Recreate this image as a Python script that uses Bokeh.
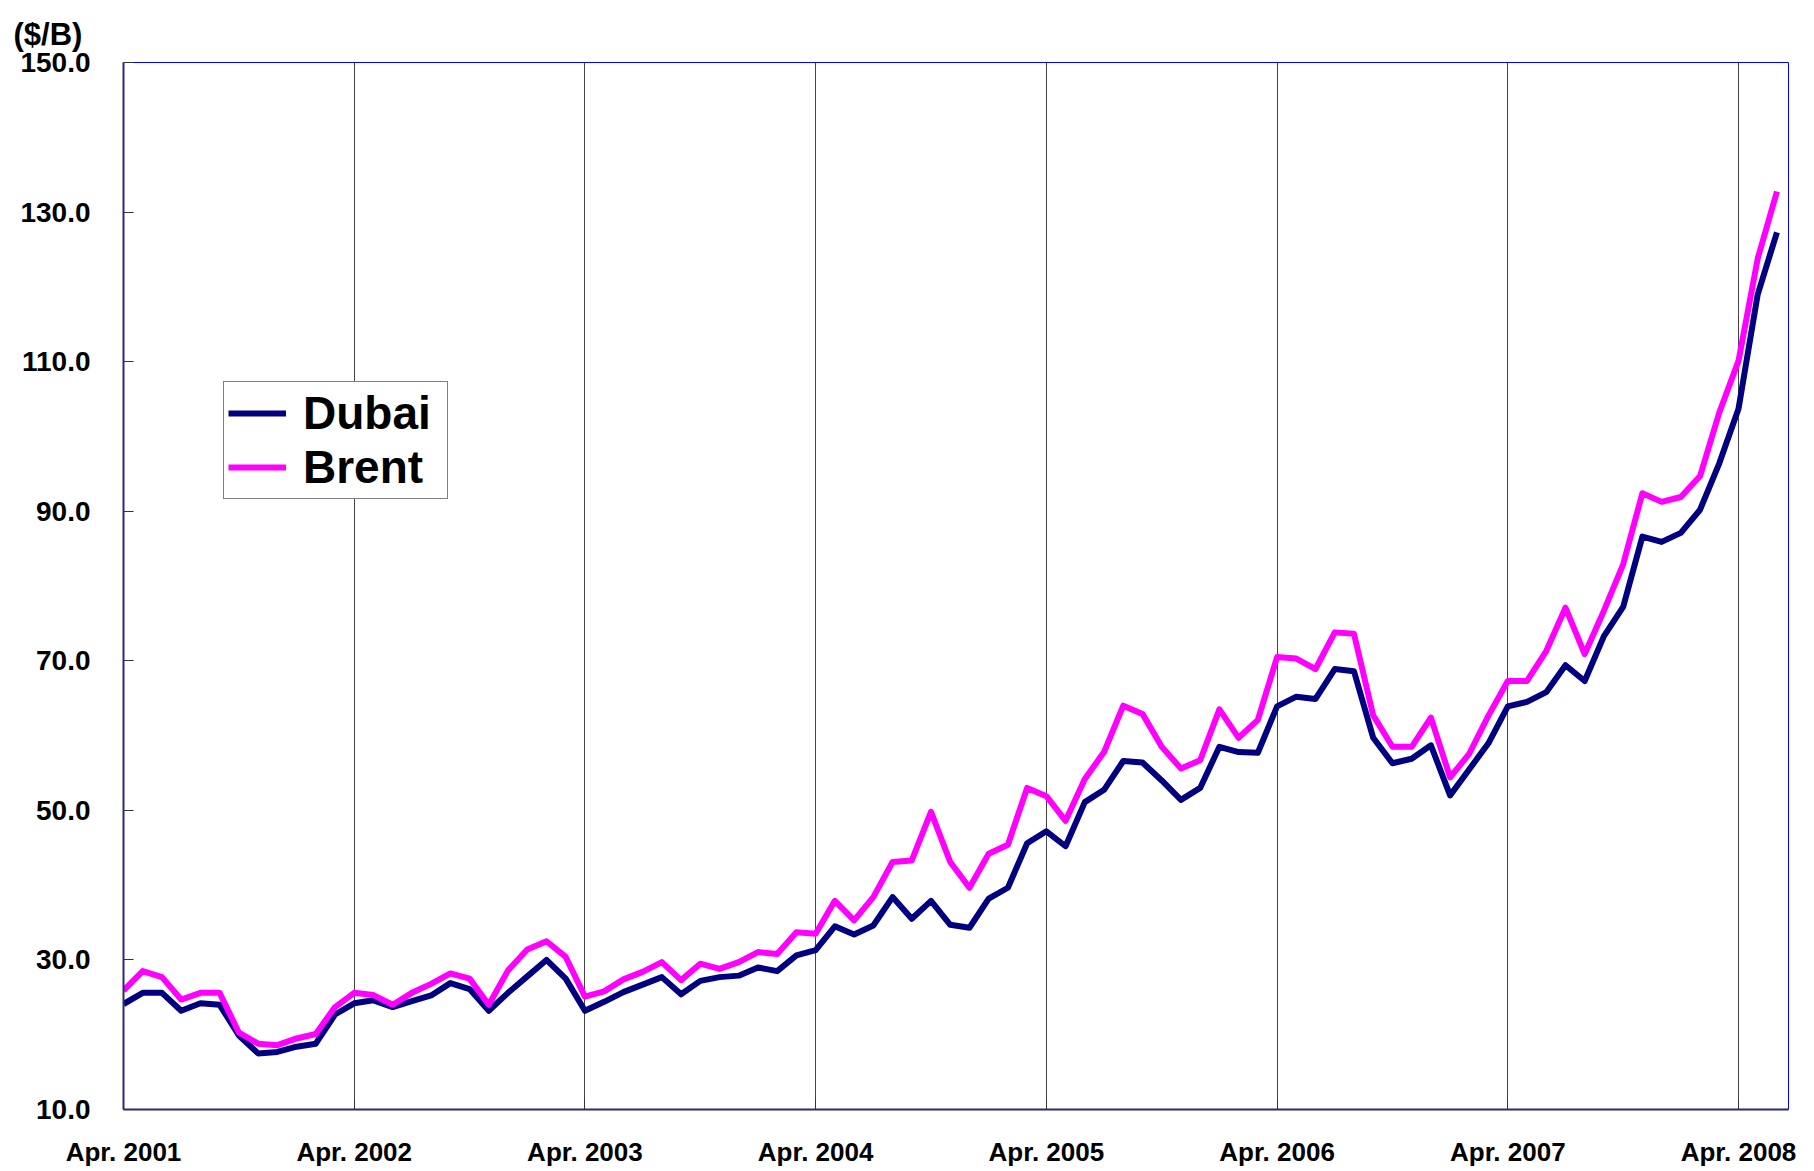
import pandas as pd
from bokeh.plotting import figure
from bokeh.models import Range1d, FixedTicker, NumeralTickFormatter, Legend, LegendItem, ColumnDataSource
from bokeh.embed import file_html
from bokeh.resources import INLINE

# ---- data (monthly averages, $/B), Apr. 2001 .. Jun. 2008 ----
months = pd.period_range("2001-04", "2008-06", freq="M")

dubai = [24.1, 25.6, 25.6, 23.2, 24.2, 24.0, 19.9, 17.5, 17.7, 18.4, 18.8, 22.7,
         24.2, 24.6, 23.7, 24.5, 25.25, 26.9, 26.1, 23.2, 25.6, 27.8, 30.0, 27.5,
         23.2, 24.4, 25.7, 26.7, 27.7, 25.4, 27.2, 27.7, 27.9, 29.0, 28.5, 30.6,
         31.3, 34.5, 33.4, 34.6, 38.4, 35.5, 37.9, 34.7, 34.3, 38.2, 39.65, 45.6,
         47.2, 45.2, 51.1, 52.75, 56.6, 56.4, 54.0, 51.4, 53.0, 58.5, 57.8, 57.7,
         63.9, 65.2, 64.9, 68.9, 68.6, 59.7, 56.3, 56.9, 58.7, 52.0, 55.5, 59.0,
         63.9, 64.5, 65.8, 69.4, 67.3, 73.3, 77.2, 86.6, 85.9, 87.1, 90.2, 96.4,
         103.7, 119.0, 127.3]

brent = [25.9, 28.5, 27.7, 24.7, 25.6, 25.6, 20.3, 18.8, 18.6, 19.5, 20.1, 23.7,
         25.6, 25.3, 24.0, 25.6, 26.8, 28.2, 27.5, 24.0, 28.6, 31.4, 32.5, 30.4,
         25.1, 25.8, 27.4, 28.4, 29.7, 27.3, 29.5, 28.8, 29.7, 31.05, 30.8, 33.7,
         33.5, 37.9, 35.3, 38.4, 43.1, 43.3, 49.8, 43.1, 39.65, 44.2, 45.4, 53.0,
         51.9, 48.6, 54.2, 57.8, 64.0, 62.9, 58.5, 55.6, 56.7, 63.5, 59.7, 62.1,
         70.5, 70.3, 68.9, 73.8, 73.6, 62.7, 58.5, 58.5, 62.4, 54.4, 57.6, 62.7,
         67.3, 67.3, 71.3, 77.1, 70.9, 76.7, 82.9, 92.4, 91.25, 91.9, 94.7, 103.2,
         110.1, 123.8, 132.75]

series_names = ["Dubai", "Brent"]
series_colors = ["#000080", "#FF00FF"]

y_ticks = [10, 30, 50, 70, 90, 110, 130, 150]
y_title = "($/B)"

x = list(range(len(months)))
tick_x = [i for i, m in enumerate(months) if m.month == 4]
tick_labels = {i: f"Apr. {months[i].year}" for i in tick_x}

src = ColumnDataSource(dict(x=x, dubai=dubai, brent=brent))

FONT = "Liberation Sans"

p = figure(width=1806, height=1169, output_backend="svg", toolbar_location=None,
           x_range=Range1d(0, 86.6), y_range=Range1d(10, 150),
           min_border_left=123, min_border_right=18, min_border_top=62, min_border_bottom=60)

p.background_fill_color = "white"
p.border_fill_color = "white"
p.outline_line_color = "#0000FF"
p.outline_line_width = 1

# axes
p.xaxis.ticker = FixedTicker(ticks=tick_x)
p.xaxis.major_label_overrides = tick_labels
p.yaxis.ticker = FixedTicker(ticks=y_ticks)
p.yaxis.formatter = NumeralTickFormatter(format="0.0")
for ax in (p.xaxis[0], p.yaxis[0]):
    ax.axis_line_color = "#2a2a78"
    ax.axis_line_width = 2
    ax.major_tick_in = 10
    ax.major_tick_out = 0
    ax.major_tick_line_color = "#333333"
    ax.major_tick_line_width = 1
    ax.minor_tick_line_color = None
    ax.major_label_text_font = FONT
    ax.major_label_text_font_style = "bold"
    ax.major_label_text_color = "black"
p.xaxis.major_label_text_font_size = "26px"
p.yaxis.major_label_text_font_size = "28px"
p.xaxis.major_label_standoff = 27
p.yaxis.major_label_standoff = 33

# grid: vertical lines at each April
p.xgrid.ticker = FixedTicker(ticks=tick_x)
p.xgrid.grid_line_color = "#444444"
p.xgrid.grid_line_width = 1
p.ygrid.grid_line_color = None

# unit label as the title, shifted to the left edge
p.title.text = y_title
p.title.text_font = FONT
p.title.text_font_size = "31px"
p.title.text_font_style = "bold"
p.title.text_color = "black"
p.title.align = "left"
p.title.vertical_align = "top"
p.title.offset = -110
p.title.standoff = 18

# lines
r1 = p.line("x", "dubai", source=src, line_color=series_colors[0], line_width=6, line_join="round")
r2 = p.line("x", "brent", source=src, line_color=series_colors[1], line_width=6, line_join="round")

legend = Legend(items=[LegendItem(label=series_names[0], renderers=[r1]),
                       LegendItem(label=series_names[1], renderers=[r2])],
                location=(100, 610))
legend.label_text_font = FONT
legend.label_text_font_size = "46px"
legend.label_text_font_style = "bold"
legend.label_text_color = "black"
legend.glyph_width = 58
legend.glyph_height = 54
legend.label_height = 54
legend.label_width = 140
legend.label_standoff = 17
legend.padding = 4
legend.spacing = 0
legend.margin = 0
legend.border_line_color = "black"
legend.border_line_width = 1
legend.background_fill_color = "white"
legend.background_fill_alpha = 1.0
p.add_layout(legend)

open("out.html", "w").write(file_html(p, INLINE))
